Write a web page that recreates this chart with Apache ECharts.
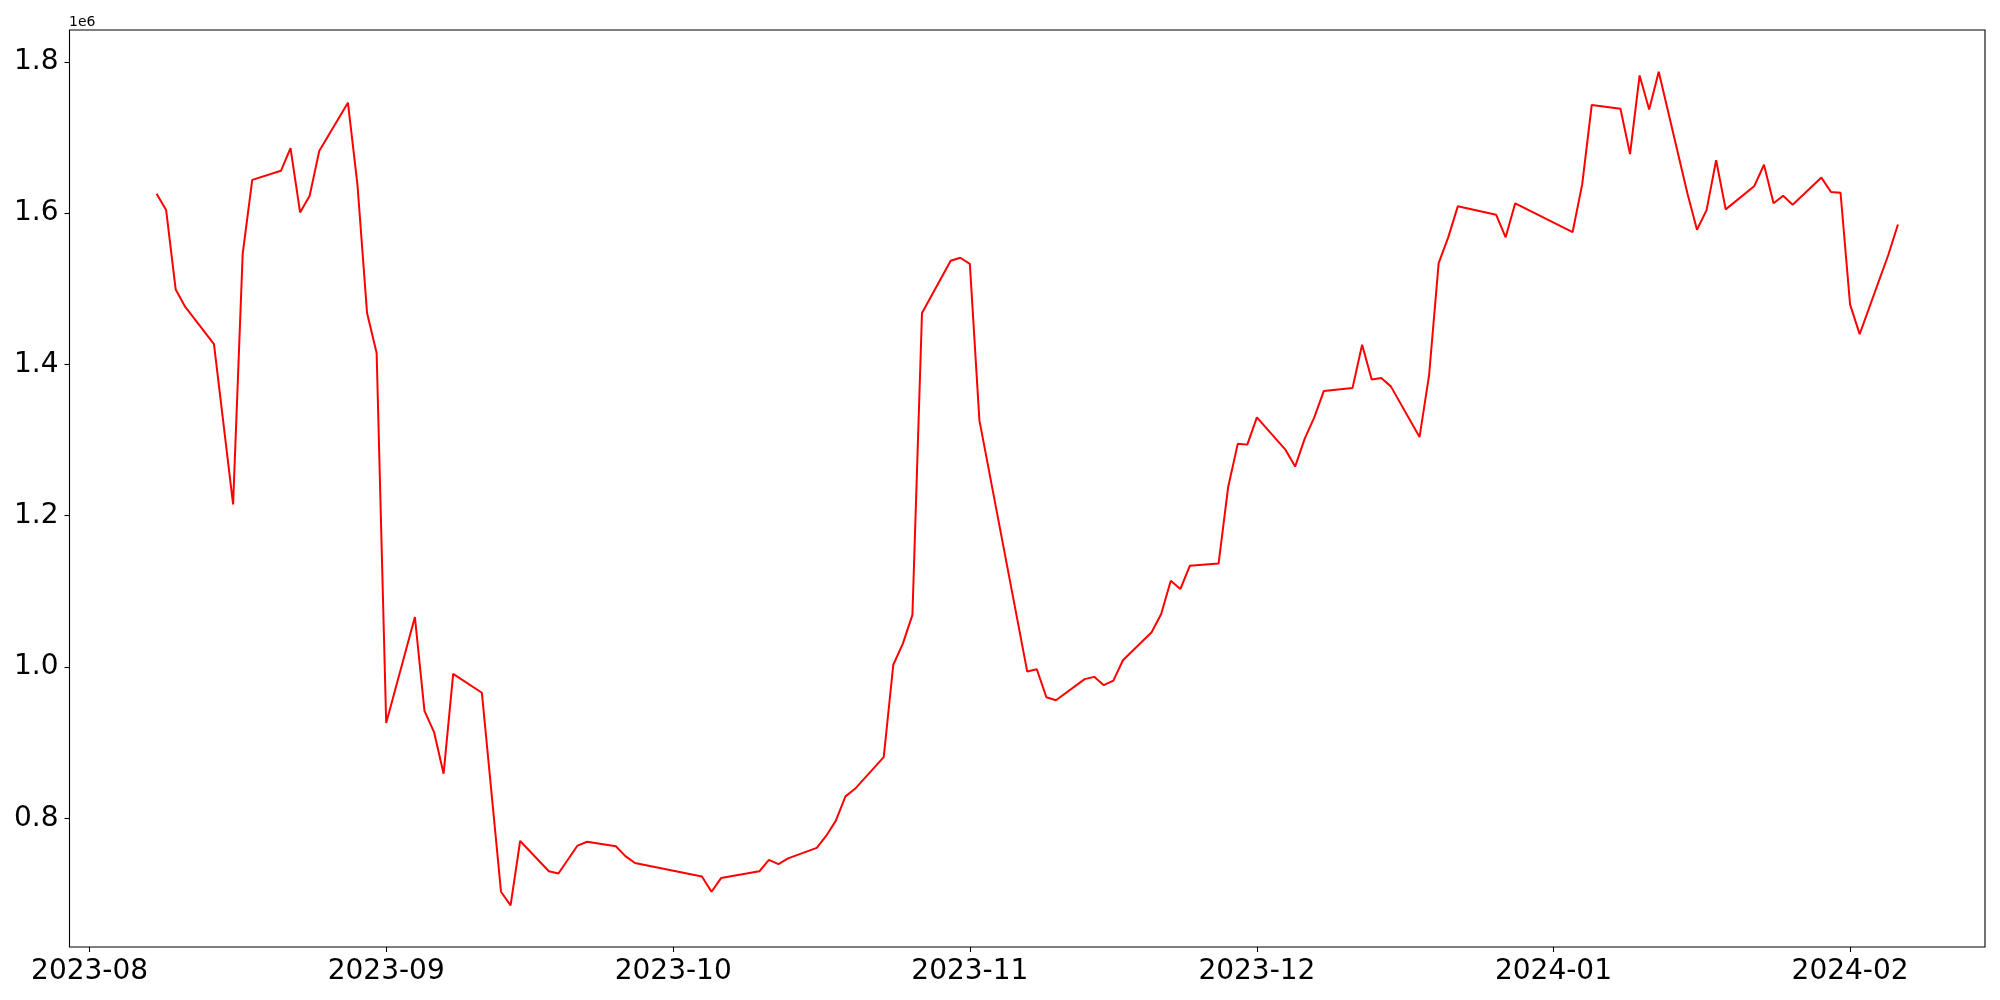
<!DOCTYPE html>
<html>
<head>
<meta charset="utf-8">
<script src="https://cdn.jsdelivr.net/npm/echarts@6/dist/echarts.min.js"></script>
<style>
html,body{margin:0;padding:0;background:#fff;}
#chart{width:2000px;height:1000px;}
</style>
</head>
<body>
<div id="chart"></div>
<script>
const dates = [
 '2023-08-08','2023-08-09','2023-08-10','2023-08-11','2023-08-14','2023-08-16','2023-08-17','2023-08-18',
 '2023-08-21','2023-08-22','2023-08-23','2023-08-24','2023-08-25','2023-08-28','2023-08-29','2023-08-30','2023-08-31',
 '2023-09-01','2023-09-04','2023-09-05','2023-09-06','2023-09-07','2023-09-08','2023-09-11','2023-09-13','2023-09-14',
 '2023-09-15','2023-09-18','2023-09-19','2023-09-21','2023-09-22','2023-09-25','2023-09-26','2023-09-27',
 '2023-10-04','2023-10-05','2023-10-06','2023-10-10','2023-10-11','2023-10-12','2023-10-13','2023-10-16','2023-10-17',
 '2023-10-18','2023-10-19','2023-10-20','2023-10-23','2023-10-24','2023-10-25','2023-10-26','2023-10-27','2023-10-30',
 '2023-10-31','2023-11-01','2023-11-02','2023-11-07','2023-11-08','2023-11-09','2023-11-10','2023-11-13','2023-11-14',
 '2023-11-15','2023-11-16','2023-11-17','2023-11-20','2023-11-21','2023-11-22','2023-11-23','2023-11-24','2023-11-27',
 '2023-11-28','2023-11-29','2023-11-30','2023-12-01','2023-12-04','2023-12-05','2023-12-06','2023-12-07','2023-12-08',
 '2023-12-11','2023-12-12','2023-12-13','2023-12-14','2023-12-15','2023-12-18','2023-12-19','2023-12-20','2023-12-21',
 '2023-12-22','2023-12-26','2023-12-27','2023-12-28','2024-01-03','2024-01-04','2024-01-05','2024-01-08','2024-01-09',
 '2024-01-10','2024-01-11','2024-01-12','2024-01-15','2024-01-16','2024-01-17','2024-01-18','2024-01-19','2024-01-22',
 '2024-01-23','2024-01-24','2024-01-25','2024-01-26','2024-01-29','2024-01-30','2024-01-31','2024-02-01','2024-02-02',
 '2024-02-05','2024-02-06'
];
const values = [
 1625600,1604000,1499000,1476000,1427000,1215000,1546000,1644000,
 1656000,1686000,1601000,1623000,1682000,1746000,1637000,1468000,1415000,
 926000,1066000,942000,914000,859000,991000,966000,703000,685000,
 770000,730000,727000,764000,769000,763000,750000,741000,
 723000,703000,721000,730000,745000,739500,747000,761000,777000,
 797000,829000,839000,881000,1003000,1031000,1069000,1468000,1537000,
 1541000,1533000,1326000,994000,997000,960000,956000,984000,987000,
 976000,982000,1009000,1046000,1070000,1114000,1103000,1134000,1137000,
 1238000,1295000,1294000,1330000,1287000,1265000,1302000,1330000,1365000,
 1369000,1426000,1380000,1382000,1371000,1304000,1386000,1534000,1568000,
 1609000,1598000,1568000,1613000,1575000,1638000,1743000,1738000,1678000,
 1782000,1737000,1787000,1626000,1578000,1604000,1670000,1605000,1636000,
 1664000,1613000,1623000,1611000,1647000,1628000,1627000,1479000,1440000,
 1545000,1585000
];
const xTickLabels = ['2023-08','2023-09','2023-10','2023-11','2023-12','2024-01','2024-02'];
const yTickValues = [800000,1000000,1200000,1400000,1600000,1800000];

function ts(s){ const p=s.split('-').map(Number); return Date.UTC(p[0],p[1]-1,p[2]||1); }
const DAY = 86400000;
const dataTs = dates.map(ts);
const xMin = dataTs[0] - 9.1*DAY;
const xMax = dataTs[dataTs.length-1] + 9.1*DAY;
const vMin = Math.min(...values), vMax = Math.max(...values);
const yMin = vMin - 0.05*(vMax-vMin);
const yMax = vMax + 0.05*(vMax-vMin);
const xTickTs = xTickLabels.map(ts);
const xLabelMap = {};
xTickTs.forEach((t,i)=>{ xLabelMap[t]=xTickLabels[i]; });

const chart = echarts.init(document.getElementById('chart'), null, {renderer:'canvas'});
const font = 'DejaVu Sans';
chart.setOption({
  animation:false,
  backgroundColor:'#ffffff',
  grid:{left:69.5,right:15,top:30,bottom:53,show:true,borderColor:'#000',borderWidth:1.1,containLabel:false},
  xAxis:{
    type:'value', min:xMin, max:xMax, scale:true,
    axisLine:{show:false},
    splitLine:{show:false},
    axisTick:{show:true,length:5,inside:false,lineStyle:{color:'#000',width:1.1},customValues:xTickTs},
    axisLabel:{show:true,margin:11,fontFamily:font,fontSize:28,color:'#000',customValues:xTickTs,
      formatter:function(v){return xLabelMap[v]!==undefined?xLabelMap[v]:'';}}
  },
  yAxis:{
    type:'value', min:yMin, max:yMax, scale:true,
    axisLine:{show:false},
    splitLine:{show:false},
    axisTick:{show:true,length:5,lineStyle:{color:'#000',width:1.1},customValues:yTickValues},
    axisLabel:{show:true,margin:11,fontFamily:font,fontSize:28,color:'#000',customValues:yTickValues,
      formatter:function(v){return (v/1e6).toFixed(1);}}
  },
  graphic:[{type:'text',left:69,top:15,style:{text:'1e6',font:'14px "DejaVu Sans"',fill:'#000'}}],
  series:[{
    type:'line',
    data:dataTs.map((t,i)=>[t,values[i]]),
    showSymbol:false,
    lineStyle:{color:'#ff0000',width:2},
    itemStyle:{color:'#ff0000'}
  }]
});
</script>
</body>
</html>
